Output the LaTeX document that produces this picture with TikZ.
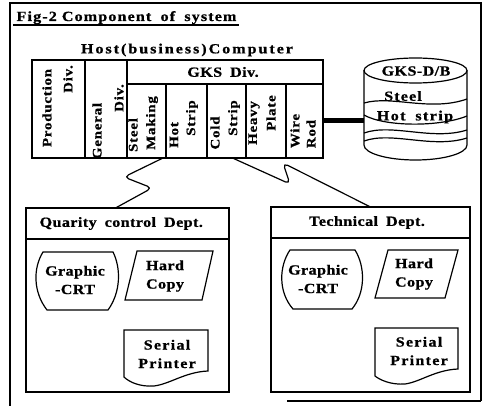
\documentclass[tikz,border=0pt]{standalone}
\usepackage{fontspec}
\newfontfamily\typeface[FakeStretch=1.15, LetterSpace=3, WordSpace=1.8, BoldFeatures={FakeBold=0.8}]{Liberation Serif}
\usetikzlibrary{calc}
\newcommand\spaced[1]{\addfontfeatures{LetterSpace=#1}}
\begin{document}
\begin{tikzpicture}[x=1pt,y=-1pt,
  line width=1.2pt,
  txt/.style={font=\typeface\bfseries\fontsize{14}{18.5}\selectfont, inner sep=0pt, align=center},
  vtxt/.style={txt, rotate=90, font=\typeface\bfseries\fontsize{13}{16}\selectfont\spaced{6}},
  cell/.style={draw, anchor=north west, inner sep=0pt, outer sep=0pt},
  zig/.style={rounded corners=5pt, line join=round},
]
\useasboundingbox (0,0) rectangle (486,406);

% outer frame
\draw[line width=1.3pt] (481,401) -- (481,3) -- (10,3) -- (10,406);
\draw[line width=1.3pt] (287,401) -- (481,401);

% heading
\node[txt, anchor=base west, font=\typeface\bfseries\fontsize{14}{18}\selectfont\spaced{8}] (title) at (16,21) {Fig-2\kern5pt Component of system};
\draw (13,25) -- (239,25);

% host computer table
\node[txt, font=\typeface\bfseries\fontsize{14}{18}\selectfont\spaced{14}] (host) at (187,50) {Host(business)Computer};
\node[cell, minimum width=53pt, minimum height=98pt] (prod) at (32,60) {};
\node[cell, minimum width=42pt, minimum height=98pt] (gen) at (85,60) {};
\node[cell, minimum width=196pt, minimum height=24pt] (gks) at (127,60) {};
\node[cell, minimum width=39pt, minimum height=74pt] (steel) at (127,84) {};
\node[cell, minimum width=41pt, minimum height=74pt] (hot) at (166,84) {};
\node[cell, minimum width=39pt, minimum height=74pt] (cold) at (207,84) {};
\node[cell, minimum width=40pt, minimum height=74pt] (heavy) at (246,84) {};
\node[cell, minimum width=37pt, minimum height=74pt] (wire) at (286,84) {};
\node[txt] (gkslbl) at (223,72) {GKS Div.};

\node[vtxt] (prodA) at (47,108) {Production};
\node[vtxt] (prodB) at (68,79) {Div.};
\node[vtxt] (genA) at (97,131) {General};
\node[vtxt] (genB) at (119,98) {Div.};
\node[vtxt] (steelA) at (133,135) {Steel};
\node[vtxt] (steelB) at (152,123) {Making};
\node[vtxt] (hotA) at (174,135) {Hot};
\node[vtxt] (hotB) at (192,118) {Strip};
\node[vtxt] (coldA) at (215,133) {Cold};
\node[vtxt] (coldB) at (234,118) {Strip};
\node[vtxt] (heavyA) at (254,123) {Heavy};
\node[vtxt] (heavyB) at (271,113) {Plate};
\node[vtxt] (wireA) at (295,131) {Wire};
\node[vtxt] (wireB) at (311,134) {Rod};

% database cylinder
\draw (364,70.5) -- (364,145) arc[start angle=180, end angle=0, x radius=51.5, y radius=15] -- (467,70.5);
\draw (415.5,70.5) ellipse[x radius=51.5, y radius=12.5];
\draw (364,103) .. controls (392,95) and (430,112) .. (467,99);
\draw (364,115) .. controls (385,127) and (440,127) .. (467,116);
\draw (364,133) .. controls (392,123) and (432,141) .. (467,130);
\draw (364,141) .. controls (392,131) and (432,149) .. (467,138);
\node[txt] (dbtitle) at (416,71) {GKS-D/B};
\node[txt, font=\typeface\bfseries\fontsize{14}{18}\selectfont\spaced{8}] (dbsteel) at (403,96) {Steel};
\node[txt, font=\typeface\bfseries\fontsize{14}{18}\selectfont\spaced{10}] (dbhot) at (415,117) {Hot strip};
\coordinate (dbport) at (364,121);
\draw[line width=5pt] (wire.east) -- (dbport);

% department boxes
\node[cell, minimum width=203pt, minimum height=184pt] (qc) at (26,208) {};
\node[cell, minimum width=203pt, minimum height=31pt] (qchead) at (26,208) {};
\node[txt, anchor=west] (qclbl) at (39,223.5) {Quarity control Dept.};
\node[cell, minimum width=199pt, minimum height=185pt] (tech) at (271,207) {};
\node[cell, minimum width=199pt, minimum height=31pt] (techhead) at (271,207) {};
\node[txt] (techlbl) at (367,222.5) {Technical Dept.};

% display terminals
\draw (43,252) -- (113,252) .. controls (121,268) and (121,292) .. (108,310) -- (47,310) .. controls (33,292) and (33,268) .. (43,252) -- cycle;
\node[txt] (crt1) at (75,280) {Graphic\\-CRT};
\draw (290,250) -- (355,250) .. controls (365,266) and (366,292) .. (352,309) -- (293,309) .. controls (278,292) and (279,266) .. (290,250) -- cycle;
\node[txt] (crt2) at (318,279) {Graphic\\-CRT};

% hard copy units
\draw (137,251) -- (213,251) -- (202,300) -- (125,300) -- cycle;
\node[txt] (hc1) at (165,276) {Hard\\Copy};
\draw (388,250) -- (458,250) -- (445,298) -- (375,298) -- cycle;
\node[txt] (hc2) at (414,274) {Hard\\Copy};

% serial printers
\draw (124,330) -- (208,330) -- (208,371) .. controls (185,372) and (170,384) .. (154,386) .. controls (140,387) and (129,382) .. (124,377) -- cycle;
\node[txt, font=\typeface\bfseries\fontsize{14}{18.5}\selectfont\spaced{9}] (sp1) at (167,354) {Serial\\Printer};
\draw (375,328) -- (458,328) -- (458,369) .. controls (435,370) and (420,382) .. (405,384) .. controls (391,385) and (380,380) .. (375,376) -- cycle;
\node[txt, font=\typeface\bfseries\fontsize{14}{18.5}\selectfont\spaced{9}] (sp2) at (419,351) {Serial\\Printer};

% communication links
\draw[zig] ([xshift=-3pt]hot.south west) -- (124,177) -- (152,188) -- ([xshift=-12pt]qc.north);
\draw[zig] ([xshift=6pt]cold.south) -- (290,184) -- (283,163) -- (tech.north);
\end{tikzpicture}
\end{document}
